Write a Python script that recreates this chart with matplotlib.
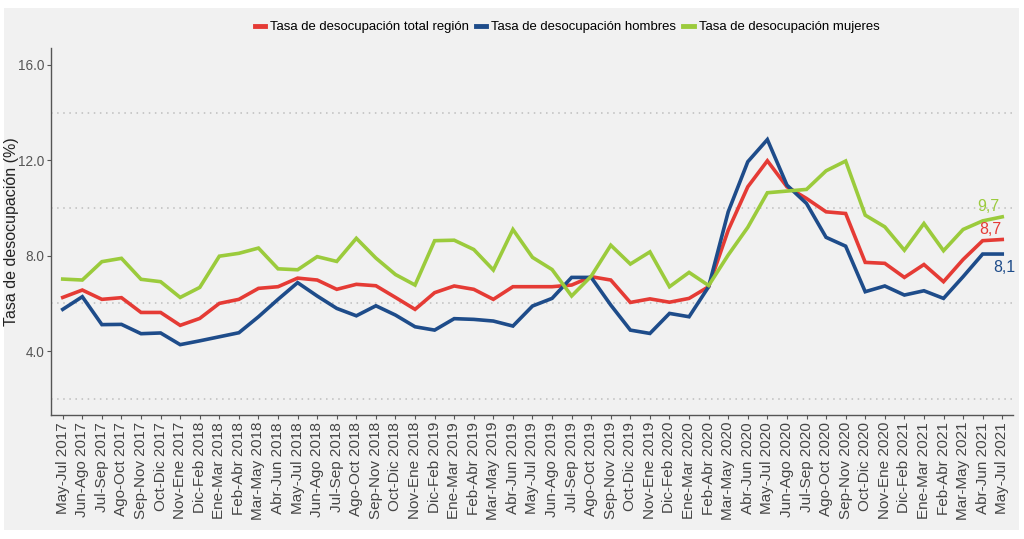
import matplotlib
matplotlib.use("Agg")
import matplotlib.pyplot as plt
from matplotlib import font_manager
from matplotlib.patches import Rectangle

# Datos
periodos = [
    "May-Jul 2017", "Jun-Ago 2017", "Jul-Sep 2017", "Ago-Oct 2017", "Sep-Nov 2017",
    "Oct-Dic 2017", "Nov-Ene 2017", "Dic-Feb 2018", "Ene-Mar 2018", "Feb-Abr 2018",
    "Mar-May 2018", "Abr-Jun 2018", "May-Jul 2018", "Jun-Ago 2018", "Jul-Sep 2018",
    "Ago-Oct 2018", "Sep-Nov 2018", "Oct-Dic 2018", "Nov-Ene 2018", "Dic-Feb 2019",
    "Ene-Mar 2019", "Feb-Abr 2019", "Mar-May 2019", "Abr-Jun 2019", "May-Jul 2019",
    "Jun-Ago 2019", "Jul-Sep 2019", "Ago-Oct 2019", "Sep-Nov 2019", "Oct-Dic 2019",
    "Nov-Ene 2019", "Dic-Feb 2020", "Ene-Mar 2020", "Feb-Abr 2020", "Mar-May 2020",
    "Abr-Jun 2020", "May-Jul 2020", "Jun-Ago 2020", "Jul-Sep 2020", "Ago-Oct 2020",
    "Sep-Nov 2020", "Oct-Dic 2020", "Nov-Ene 2020", "Dic-Feb 2021", "Ene-Mar 2021",
    "Feb-Abr 2021", "Mar-May 2021", "Abr-Jun 2021", "May-Jul 2021",
]

total = [6.25, 6.56, 6.17, 6.24, 5.62, 5.62, 5.08, 5.37, 6.00, 6.17,
         6.63, 6.70, 7.06, 6.98, 6.59, 6.80, 6.74, 6.25, 5.75, 6.45,
         6.73, 6.59, 6.17, 6.70, 6.70, 6.70, 6.77, 7.12, 6.98, 6.04,
         6.19, 6.05, 6.21, 6.70, 9.07, 10.89, 11.98, 10.89, 10.40, 9.84,
         9.77, 7.72, 7.68, 7.09, 7.63, 6.91, 7.84, 8.63, 8.68]

hombres = [5.75, 6.28, 5.11, 5.12, 4.73, 4.76, 4.27, 4.43, 4.60, 4.77,
           5.44, 6.17, 6.87, 6.31, 5.79, 5.48, 5.90, 5.51, 5.02, 4.88,
           5.36, 5.33, 5.26, 5.05, 5.89, 6.21, 7.09, 7.09, 5.93, 4.88,
           4.74, 5.58, 5.44, 6.70, 9.84, 11.94, 12.87, 10.96, 10.19, 8.77,
           8.40, 6.49, 6.73, 6.35, 6.53, 6.21, 7.12, 8.07, 8.07]

mujeres = [7.02, 6.98, 7.75, 7.89, 7.01, 6.91, 6.25, 6.67, 7.98, 8.10,
           8.32, 7.45, 7.41, 7.96, 7.76, 8.73, 7.90, 7.21, 6.77, 8.63,
           8.65, 8.26, 7.40, 9.10, 7.93, 7.42, 6.31, 7.14, 8.44, 7.65,
           8.16, 6.70, 7.30, 6.75, 8.03, 9.19, 10.64, 10.71, 10.78, 11.56,
           11.97, 9.70, 9.21, 8.23, 9.35, 8.21, 9.10, 9.46, 9.63]

series = [
    ("Tasa de desocupación total región", total, "#E53B35"),
    ("Tasa de desocupación hombres", hombres, "#1E4C8A"),
    ("Tasa de desocupación mujeres", mujeres, "#9BCB3C"),
]

plt.rcParams["font.family"] = ["Liberation Sans", "DejaVu Sans"]

# fuente angosta si existe
nombres_fuentes = {f.name for f in font_manager.fontManager.ttflist}
if "Liberation Sans Narrow" in nombres_fuentes:
    narrow = ["Liberation Sans Narrow", "DejaVu Sans"]
    esc = 1.0
else:
    narrow = ["Liberation Sans", "DejaVu Sans"]
    esc = 0.82

fig = plt.figure(figsize=(10.24, 5.39), dpi=100)
fig.patch.set_facecolor("white")
fondo = Rectangle((4 / 1024, 1 - 530 / 539), 1015 / 1024, 522 / 539,
                  transform=fig.transFigure, facecolor="#F1F1F1",
                  edgecolor="none", zorder=-10)
fig.patches.append(fondo)

ax = fig.add_axes([51 / 1024, 1 - 415 / 539, 962 / 1024, 367 / 539])
ax.set_facecolor("none")
ax.set_zorder(1)

x = list(range(len(periodos)))
for nombre, vals, color in series:
    ax.plot(x, vals, color=color, lw=2.6, label=nombre, solid_joinstyle="miter")

# etiquetas finales
ax.text(x[-1] - 0.7, mujeres[-1] + 0.12, "9,7", color="#9BCB3C", fontsize=14 * esc,
        family=narrow, ha="center", va="bottom")
ax.text(x[-1] - 0.6, total[-1] + 0.1, "8,7", color="#E53B35", fontsize=14 * esc,
        family=narrow, ha="center", va="bottom")
ax.text(x[-1] + 0.1, hombres[-1] - 0.25, "8,1", color="#1E4C8A", fontsize=14 * esc,
        family=narrow, ha="center", va="top")

for g in [2, 6, 10, 14]:
    ax.axhline(g, color="#BDBDBD", lw=1.1, ls=(0, (1, 3)), zorder=0)

ax.set_xlim(-0.6, len(periodos) - 0.45)
ax.set_ylim(1.32, 16.71)
ax.set_yticks([4, 8, 12, 16])
ax.set_yticklabels(["4.0", "8.0", "12.0", "16.0"], family=narrow, fontsize=12 * esc,
                   color="#555555")
ax.set_xticks(x)
ax.set_xticklabels(periodos, rotation=90, fontsize=11, color="#444444")
ax.tick_params(axis="both", length=3, color="#555555", pad=2)

for s in ["top", "right"]:
    ax.spines[s].set_visible(False)
for s in ["left", "bottom"]:
    ax.spines[s].set_color("#555555")
    ax.spines[s].set_linewidth(1.0)

ax.set_ylabel("Tasa de desocupación (%)", fontsize=11.5, color="#222222")
ax.yaxis.set_label_coords(-32 / 962, 0.5)

leg = fig.legend(loc="center", bbox_to_anchor=(567 / 1024, 1 - 27 / 539), ncol=3,
                 frameon=False, handlelength=0.8, handletextpad=0.4,
                 columnspacing=0.5, prop={"family": narrow, "size": 11.5 * esc})
for line in leg.get_lines():
    line.set_linewidth(3.5)

fig.savefig("out.png", dpi=100)
